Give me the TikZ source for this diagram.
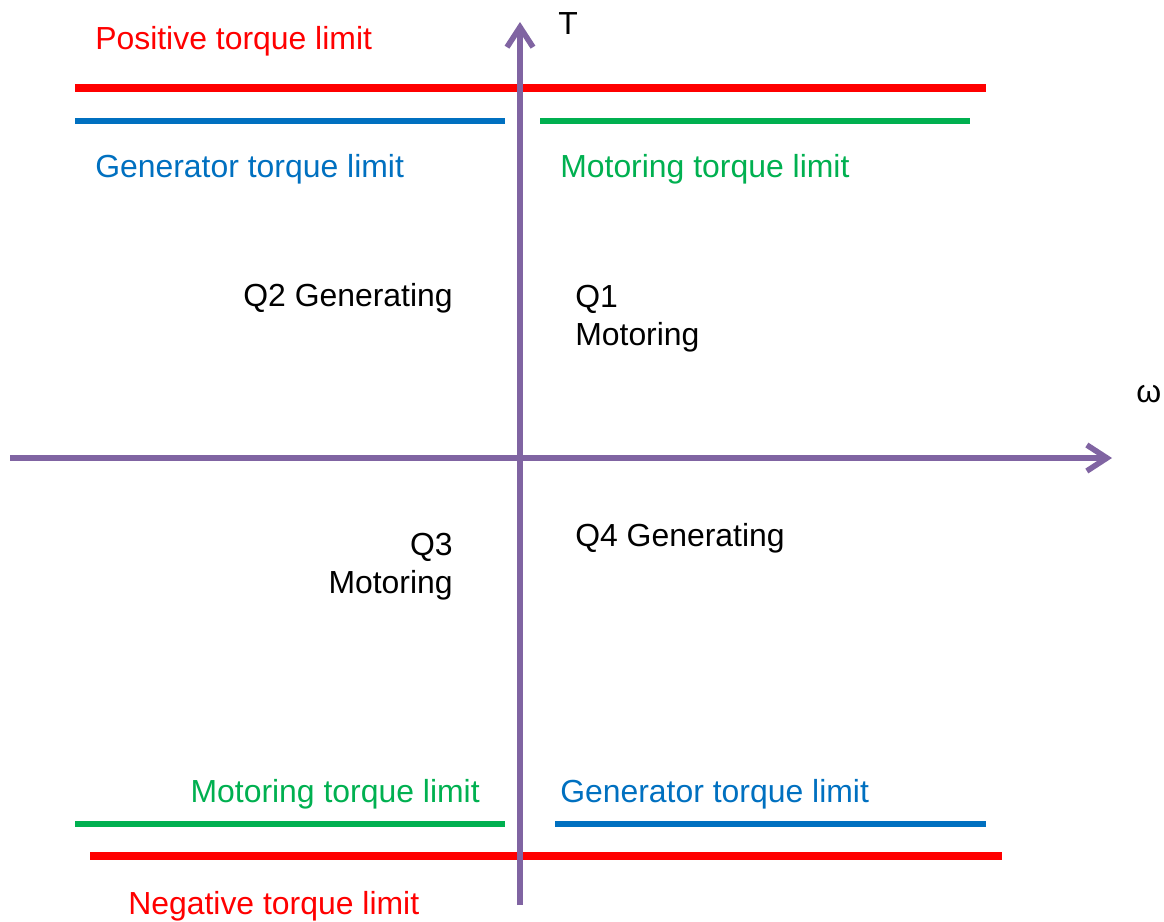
\documentclass[tikz,border=0pt]{standalone}
\usepackage{fontspec}
\setmainfont{Liberation Sans}
\usepackage{xcolor}
\usetikzlibrary{arrows.meta,positioning}
\definecolor{limred}{HTML}{FF0000}
\definecolor{genblue}{HTML}{0070C0}
\definecolor{motgreen}{HTML}{00B050}
\definecolor{axpurple}{HTML}{8064A2}

\begin{document}
\begin{tikzpicture}[x=0.025cm,y=-0.025cm,font=\fontsize{22.7}{27}\selectfont,
  lbl/.style={inner sep=0pt,align=left},
  lim/.style={line width=4pt},
  arr/.style={-{Straight Barb[length=5mm,width=6.5mm]},line width=4pt,axpurple}]
\useasboundingbox (0,0) rectangle (1164,921);
% axes
\coordinate (wl) at (10,458);
\coordinate (wr) at (1112,458);
\coordinate (tb) at (520,905);
\coordinate (tt) at (520,22);
\draw[lim,limred,line width=5.5pt] (75,88) -- (986,88);
\draw[lim,limred,line width=5.5pt] (90,856) -- (1002,856);
\draw[lim,genblue] (75,121) -- (505,121);
\draw[lim,motgreen] (540,121) -- (970,121);
\draw[lim,motgreen] (75,824) -- (505,824);
\draw[lim,genblue] (555,824) -- (986,824);
\draw[arr] (wl) -- (wr);
\draw[arr] (tb) -- (tt);
\node[lbl,anchor=west] (tlab) at (558,24) {T};
\node[lbl,anchor=west] (wlab) at (1136,394) {ω};
% limits
\node[lbl,anchor=west,text=limred] (pos) at (95,41) {Positive torque limit};
\node[lbl,anchor=west,text=genblue] (gen1) at (95,169) {Generator torque limit};
\node[lbl,anchor=west,text=motgreen] (mot1) at (560,169) {Motoring torque limit};
\node[lbl,anchor=east,text=motgreen] (mot2) at (480,794) {Motoring torque limit};
\node[lbl,anchor=west,text=genblue] (gen2) at (560,794) {Generator torque limit};
\node[lbl,anchor=west,text=limred] (neg) at (128,906) {Negative torque limit};
% quadrants
\node[lbl,anchor=east] (q2) at (453,298) {Q2 Generating};
\node[lbl,anchor=north west] (q1) at (575,285) {Q1\\Motoring};
\node[lbl,anchor=north east,align=right] (q3) at (453,533) {Q3\\Motoring};
\node[lbl,anchor=west] (q4) at (575,538) {Q4 Generating};
\end{tikzpicture}
\end{document}
